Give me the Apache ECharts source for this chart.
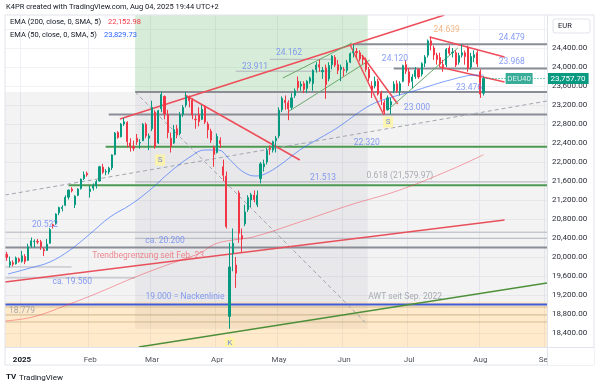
<!DOCTYPE html>
<html><head><meta charset="utf-8">
<style>html,body{margin:0;padding:0;background:#fff}#c{width:600px;height:386px}</style>
<script src="https://cdn.jsdelivr.net/npm/echarts@6/dist/echarts.min.js"></script>
</head><body><div id="c"></div>
<script>
// ---------- DATA ----------
const firstBar = -5;            // bar index of first category (Dec 2024)
const lastCategory = 169;       // Sep 1 2025
const monthTicks = [0, 22, 42, 63, 83, 104, 125, 148, 169];
const monthNames = ['2025', 'Feb', 'Mar', 'Apr', 'May', 'Jun', 'Jul', 'Aug', 'Sep'];
const priceTicksShown = [18400, 24400];
// daily candles [open, close, low, high] from bar -5
const candles = [
[20060,19990,19920,20110],[19830,19900,19780,20010],[19880,19850,19800,19930],[19860,19980,19840,20010],[19960,19910,19880,19990],
[19910,20025,19880,20130],[20010,19905,19850,20060],[19930,20215,19920,20280],[20230,20340,20200,20410],[20320,20330,20200,20370],
[20330,20315,20270,20380],[20320,20215,20150,20360],[20160,20130,20020,20200],[20140,20270,20130,20380],[20290,20575,20280,20610],
[20680,20655,20600,20700],[20700,20905,20680,20920],[20930,21040,20880,21060],[21020,21045,20960,21090],[21090,21255,21070,21300],
[21260,21410,21210,21420],[21430,21395,21360,21470],[21100,21280,21030,21300],[21300,21430,21280,21450],[21440,21640,21420,21650],
[21650,21730,21620,21800],[21760,21730,21690,21800],
[21380,21430,21250,21500],[21450,21505,21400,21550],[21500,21585,21440,21620],[21600,21900,21590,21920],[21890,21785,21750,21960],
[21790,21800,21720,21850],[21790,21870,21740,21900],[21880,22150,21830,22160],[22160,22610,22140,22630],[22620,22515,22490,22650],
[22530,22800,22520,22820],[22800,22845,22760,22930],[22830,22430,22300,22860],[22400,22315,22220,22500],[22330,22290,22230,22450],
[22500,22425,22360,22590],[22400,22410,22280,22480],[22450,22795,22440,22820],[22790,22550,22500,22830],[22500,22550,22250,22600],
[22700,23150,22650,23290],[23050,22330,22280,23090],[22400,23080,22380,23100],[23120,23420,23050,23480],[23380,23010,22900,23400],
[23000,22620,22500,23100],[22500,22330,22200,22620],[22400,22680,22380,22780],[22700,22570,22500,22780],[22600,22990,22560,23050],
[23000,23150,22950,23200],[23200,23380,23150,23476],[23350,23290,23150,23400],[23300,22990,22900,23340],[22900,22890,22700,22990],
[23000,22850,22750,23150],[22900,23110,22880,23200],[23150,22840,22800,23200],[22800,22680,22500,22850],[22650,22460,22400,22700],
[22300,22160,21900,22350],
[22200,22540,22180,22600],[22450,22390,22300,22520],[21900,21720,21600,22050],[21700,20640,20600,21800],[18750,19790,18489,20300],
[20080,20290,19700,20600],[19830,19660,19350,20000],[21350,20500,20300,21400],[20450,20380,20100,20600],[20700,20950,20650,21100],
[21000,21250,20950,21300],[21200,21310,21050,21350],[21300,21210,21150,21400],[21100,21300,21050,21400],[21650,21960,21550,22000],
[21900,21960,21800,22050],[22000,22240,21950,22300],[22300,22270,22150,22350],[22250,22425,22200,22450],[22450,22500,22200,22550],
[22550,23090,22500,23150],[23100,23340,23050,23380],[23300,23250,23100,23400],[23250,23120,22880,23300],[23150,23350,23100,23450],
[23400,23500,23350,23550],[23700,23570,23500,23800],[23600,23640,23500,23700],[23650,23530,23450,23700],[23550,23700,23450,23720],
[23700,23770,23650,23800],[23650,23930,23500,23950],[23950,24040,23880,24100],[24050,24000,23900,24162],[23900,23930,23750,24000],
[23980,23630,23330,24050],[23750,24030,23700,24100],[24050,24230,23950,24250],[24200,24040,24000,24250],[24050,23930,23850,24150],
[23950,24000,23700,24050],
[23950,23930,23800,24000],[23930,24090,23880,24150],[24100,24280,24080,24310],[24300,24320,24200,24479],[24330,24300,24200,24400],
[24300,24170,24120,24350],[24200,24160,24050,24250],[24150,23950,23900,24200],[23950,23770,23700,24000],[23600,23520,23350,23700],
[23600,23700,23550,23800],[23700,23430,23400,23750],[23450,23320,23200,23500],[23250,23060,23000,23300],[23100,23350,23080,23400],
[23200,23270,23000,23350],[23500,23640,23450,23700],[23650,23500,23450,23720],[23500,23650,23400,23700],[23700,24030,23680,24050],
[24050,23910,23850,24150],
[23900,23670,23600,23980],[23700,23790,23550,23850],[23800,23930,23750,24000],[23950,23790,23750,23970],[23850,24070,23800,24100],
[24080,24210,24000,24250],[24250,24550,24200,24580],[24550,24460,24350,24639],[24400,24255,24150,24450],[24250,24160,24050,24300],
[24200,24060,24000,24300],[24050,24010,23900,24150],[24050,24370,24000,24400],[24400,24290,24250,24450],[24300,24310,24200,24400],
[24300,24040,24000,24350],[24100,24240,24050,24300],[24250,24300,24200,24480],[24300,24220,24050,24350],[24400,23970,23900,24450],
[24000,24220,23950,24300],[24200,24260,24100,24350],[24300,24065,24000,24350],
[23900,23430,23350,23950],[23450,23758,23400,23800]
];
const lastPrice = 23757.70;
// moving averages [bar, value]
const ema50 = [[-4.5,19642],[2.6,19768],[9,19895],[15.5,20147],[21.9,20484],[28.4,20842],[34.9,21095],[41.3,21411],[47.8,21789],
  [54.2,22105],[59.1,22253],[63.3,22253],[67.2,22042],[71,21811],[75.2,21705],[78.4,21747],[83.3,21937],[89.7,22253],[96.2,22505],
  [101.7,22716],[111.4,23158],[116.5,23305],[127.5,23516],[138.2,23726],[146.9,23832],[149,23830]];
const sma200 = [[-5.5,18653],[3.5,18737],[14.5,18989],[25.2,19263],[35.8,19558],[46.8,19832],[57.5,20084],[62.3,20274],[68.1,20358],
  [74.6,20421],[89.7,20737],[105.9,21095],[122,21411],[138.2,21832],[149,22153]];
// zones [bar1, value1, bar2, value2]
const bandZone = [-5.5, 23476, 169.5, 19060];
const fibUpperZone = [36.5, 25095, 111.6, 23476];
const fibLowerZone = [36.5, 23476, 111.6, 18489];
const supportZone = [-5.5, 19060, 169.5, 18105];
// horizontal levels [value, bar start, bar end]
const majorLevels = [[24479,107,169.5],[23968,120,169.5],[23476,36.5,169.5],[23000,28,169.5],[20200,-5.5,169.5]];
const minorLevels = [[20522,-5.5,169.5],[19790,-5.5,16],[19560,-5.5,36.5],[24162,80,100],[23911,69,100],[21580,36.5,169.5],[20394,36.5,169.5]];
const greenLevels = [[22320,27,169.5],[21513,15,169.5]];
const necklineLevel = [[19000,-5.5,169.5]];
const supportLevels = [[18947,-5.5,169.5],[18779,-5.5,169.5],[18632,-5.5,169.5]];
// trend lines [bar1, value1, bar2, value2]
const redTrends = [[31.6,22905,136.4,25095],[52.6,23411,89.7,22042],[105.8,24484,116.8,22990],[109.7,24253,121.3,23221],
  [131.6,24632,155.8,24211],[134.8,24000,155.8,23684]];
const longTrend = [[-5.5,19474,155.8,20779]];
const greenTrends = [[84.2,23768,106.5,24505],[85.8,23053,112.3,24147],[118.1,23095,140.7,24400]];
const awtTrend = [[37.7,18105,169.5,19453]];
const dashedTrends = [[-5.5,21305,169.5,23284],[36.5,23474,110.7,18632]];
// text labels [text, bar, value]
const blueLabels = [['24.479',158.1,24610],['23.968',158.1,24105],['23.476',144.3,23558],['23.000',127.5,23137],['24.162',86.2,24295],
  ['23.911',75.2,24000],['24.120',120.4,24168],['20.522',7.4,20674],['ca. 20.200',46.2,20337],['ca. 19.560',16.2,19474],
  ['19.000 = Nackenlinie',52.6,19158],['22.320',111.3,22400],['21.513',97.2,21663]];
const orangeLabels = [['24.639',137.1,24779]];
const redLabels = [['Trendbegrenzung seit Feb. 23',40.7,20021]];
const grayLabels = [['18.779',0,18863],['AWT seit Sep. 2022',123.7,19158],['0.618 (21,579.97)',122,21705]];
const markerS = [[44.6,22042],[118.2,22842]];
const markerK = [[67.1,18190]];
const symbolTag = [['DEU40',160.5,lastPrice]];

// ---------- CHART ----------
const FONT = 'Roboto, "Noto Sans", sans-serif';
const up = '#089981', down = '#f23645';
const cats = [];
for (let k = firstBar; k <= lastCategory; k++) cats.push(String(k));
const isMonth = (idx) => monthTicks.indexOf(idx + firstBar) >= 0;

function rectSeries(zone, fill, z) {
  return { type: 'custom', xAxisIndex: 1, yAxisIndex: 0, z, silent: true, clip: true,
    data: [zone],
    renderItem: (p, api) => {
      const a = api.coord([api.value(0), api.value(1)]);
      const b = api.coord([api.value(2), api.value(3)]);
      return { type: 'rect', shape: { x: a[0], y: a[1], width: b[0] - a[0], height: b[1] - a[1] }, style: { fill } };
    } };
}
function segSeries(segs, style, z) {
  return { type: 'custom', xAxisIndex: 1, yAxisIndex: 0, z, silent: true, clip: true,
    data: segs,
    renderItem: (p, api) => {
      const a = api.coord([api.value(0), api.value(1)]);
      const b = api.coord([api.value(2), api.value(3)]);
      return { type: 'line', shape: { x1: a[0], y1: a[1], x2: b[0], y2: b[1] }, style: Object.assign({ fill: null }, style) };
    } };
}
const lv = (arr) => arr.map(l => [l[1], l[0], l[2], l[0]]);
function labelSeries(items, color, size) {
  return { type: 'scatter', xAxisIndex: 1, yAxisIndex: 0, z: 20, silent: true, symbolSize: 1,
    itemStyle: { color: 'rgba(0,0,0,0)' },
    data: items.map(t => ({ name: t[0], value: [t[1], t[2]] })),
    label: { show: true, position: 'inside', formatter: '{b}', color, fontSize: size || 8.5, fontFamily: FONT } };
}
function boxSeries(items, text, textColor) {
  return { type: 'scatter', xAxisIndex: 1, yAxisIndex: 0, z: 21, silent: true, symbol: 'rect', symbolSize: [10, 11],
    itemStyle: { color: '#fff59d' }, data: items,
    label: { show: true, position: 'inside', formatter: text, color: textColor, fontSize: 8, fontFamily: FONT } };
}

const chart = echarts.init(document.getElementById('c'), null, { renderer: 'canvas' });
chart.setOption({
  animation: false,
  backgroundColor: '#ffffff',
  grid: { left: 5, right: 53, top: 10, bottom: 34 },
  xAxis: [
    { type: 'category', data: cats, boundaryGap: true,
      axisLine: { show: false }, axisTick: { show: false },
      axisLabel: { interval: (i) => isMonth(i), margin: 4, color: '#50535e', fontSize: 8, fontFamily: FONT,
        formatter: (v) => { const n = monthNames[monthTicks.indexOf(+v)]; return n === '2025' ? '{b|2025}' : n; },
        rich: { b: { fontWeight: 'bold', color: '#131722', fontSize: 8, fontFamily: FONT } } },
      splitLine: { show: true, interval: (i) => isMonth(i), lineStyle: { color: '#eef0f5', width: 1 } } },
    { type: 'value', min: firstBar - 0.5, max: lastCategory + 0.5, show: false }
  ],
  yAxis: { type: 'value', position: 'right', min: 18000, max: 25200, interval: 400, scale: true,
    axisLine: { show: false }, axisTick: { show: false },
    axisLabel: { margin: 5, color: '#2a2e39', fontSize: 8, fontFamily: FONT, align: 'left',
      formatter: (v) => (v < priceTicksShown[0] || v > priceTicksShown[1]) ? '' :
        v.toLocaleString('en-US', { minimumFractionDigits: 2, maximumFractionDigits: 2 }) },
    splitLine: { show: true, showMinLine: false, showMaxLine: false, lineStyle: { color: '#f0f2f6' } } },
  series: [
    rectSeries(bandZone, 'rgba(120,123,134,0.09)', 1),
    rectSeries(fibUpperZone, 'rgba(76,175,80,0.22)', 1),
    rectSeries(fibLowerZone, 'rgba(120,123,134,0.09)', 1),
    rectSeries(supportZone, 'rgba(255,152,0,0.2)', 1),
    segSeries(lv(supportLevels), { stroke: 'rgba(160,140,80,0.45)', lineWidth: 1 }, 2),
    segSeries(lv(minorLevels), { stroke: '#b2b5be', lineWidth: 1 }, 2),
    segSeries(lv(majorLevels), { stroke: '#8a8d96', lineWidth: 2 }, 3),
    segSeries(lv(greenLevels), { stroke: '#4c9a52', lineWidth: 2 }, 3),
    segSeries(lv(necklineLevel), { stroke: '#3f5bd9', lineWidth: 2 }, 3),
    segSeries(dashedTrends, { stroke: '#a3a6af', lineWidth: 1, lineDash: [4, 3] }, 3),
    segSeries(longTrend, { stroke: '#e8505b', lineWidth: 1.5 }, 3),
    segSeries(redTrends, { stroke: '#ee4d59', lineWidth: 1.5 }, 3),
    segSeries(greenTrends, { stroke: '#6aa86a', lineWidth: 1 }, 3),
    segSeries(awtTrend, { stroke: '#4e8f3a', lineWidth: 1.5 }, 3),
    { type: 'line', xAxisIndex: 1, yAxisIndex: 0, z: 4, silent: true, symbol: 'none', smooth: 0.4, data: sma200,
      lineStyle: { color: 'rgba(242,54,69,0.45)', width: 1 } },
    { type: 'line', xAxisIndex: 1, yAxisIndex: 0, z: 4, silent: true, symbol: 'none', smooth: 0.4, data: ema50,
      lineStyle: { color: 'rgba(41,98,255,0.6)', width: 1 } },
    { type: 'candlestick', xAxisIndex: 0, yAxisIndex: 0, z: 6, barWidth: 1.6, data: candles,
      itemStyle: { color: up, color0: down, borderColor: up, borderColor0: down, borderWidth: 1 },
      markLine: { silent: true, symbol: 'none', animation: false,
        lineStyle: { color: up, type: [1, 2], width: 1 },
        label: { show: true, position: 'end', distance: 2, formatter: '23,757.70', color: '#fff', backgroundColor: up,
          padding: [2, 3, 1, 3], fontSize: 8, fontFamily: FONT },
        data: [[{ coord: [String(149), lastPrice] }, { coord: [String(lastCategory), lastPrice] }]] } },
    labelSeries(blueLabels, '#6a86f0'),
    labelSeries(orangeLabels, '#f4a261'),
    labelSeries(redLabels, '#ec6b74'),
    labelSeries(grayLabels, '#9598a1'),
    boxSeries(markerS, 'S', '#4f6fe8'),
    boxSeries(markerK, 'K', '#4f6fe8'),
    { type: 'scatter', xAxisIndex: 1, yAxisIndex: 0, z: 22, silent: true, symbol: 'rect', symbolSize: [27, 11],
      itemStyle: { color: up }, data: symbolTag.map(t => ({ name: t[0], value: [t[1], t[2]] })),
      label: { show: true, position: 'inside', formatter: '{b}', color: '#fff', fontSize: 8, fontFamily: FONT } }
  ],
  graphic: [
    { type: 'text', left: 6, top: 3, z: 50, style: { text: 'K4PR created with TradingView.com, Aug 04, 2025 19:44 UTC+2', fill: '#131722', fontSize: 7.5, fontFamily: FONT } },
    { type: 'rect', shape: { x: 5, y: 15, width: 589, height: 350 }, style: { fill: null, stroke: '#e0e3eb', lineWidth: 1 }, z: 40, silent: true },
    { type: 'line', shape: { x1: 547.5, y1: 15, x2: 547.5, y2: 365 }, style: { stroke: '#e0e3eb', lineWidth: 1 }, z: 40, silent: true },
    { type: 'line', shape: { x1: 5, y1: 347.5, x2: 594, y2: 347.5 }, style: { stroke: '#e0e3eb', lineWidth: 1 }, z: 40, silent: true },
    { type: 'rect', shape: { x: 5, y: 10, width: 589, height: 5 }, style: { fill: '#fff' }, z: 39, silent: true },
    { type: 'rect', shape: { x: 5, y: 348, width: 542, height: 4 }, style: { fill: '#fff' }, z: 39, silent: true },
    { type: 'rect', shape: { x: 548, y: 348, width: 46, height: 17 }, style: { fill: '#fff' }, z: 45, silent: true },
    { type: 'rect', shape: { x: 553, y: 19, width: 37, height: 14, r: 2 }, style: { fill: '#fff', stroke: '#e0e3eb' }, z: 45, silent: true },
    { type: 'text', x: 558, y: 22, z: 46, style: { text: 'EUR', fill: '#131722', fontSize: 7.5, fontFamily: FONT } },
    { type: 'text', x: 10, y: 18, z: 46, style: { text: 'EMA (200, close, 0, SMA, 5)', fill: '#131722', fontSize: 7.5, fontFamily: FONT } },
    { type: 'text', x: 108, y: 18, z: 46, style: { text: '22,152.98', fill: '#f23645', fontSize: 7.5, fontFamily: FONT } },
    { type: 'text', x: 10, y: 31, z: 46, style: { text: 'EMA (50, close, 0, SMA, 5)', fill: '#131722', fontSize: 7.5, fontFamily: FONT } },
    { type: 'text', x: 104, y: 31, z: 46, style: { text: '23,829.73', fill: '#2962ff', fontSize: 7.5, fontFamily: FONT } },
    { type: 'text', x: 6, y: 373, z: 46, style: { text: 'TV', fill: '#131722', fontSize: 8, fontWeight: 'bold', fontFamily: FONT } },
    { type: 'text', x: 19, y: 374, z: 46, style: { text: 'TradingView', fill: '#131722', fontSize: 8, fontFamily: FONT } }
  ]
});
</script></body></html>
